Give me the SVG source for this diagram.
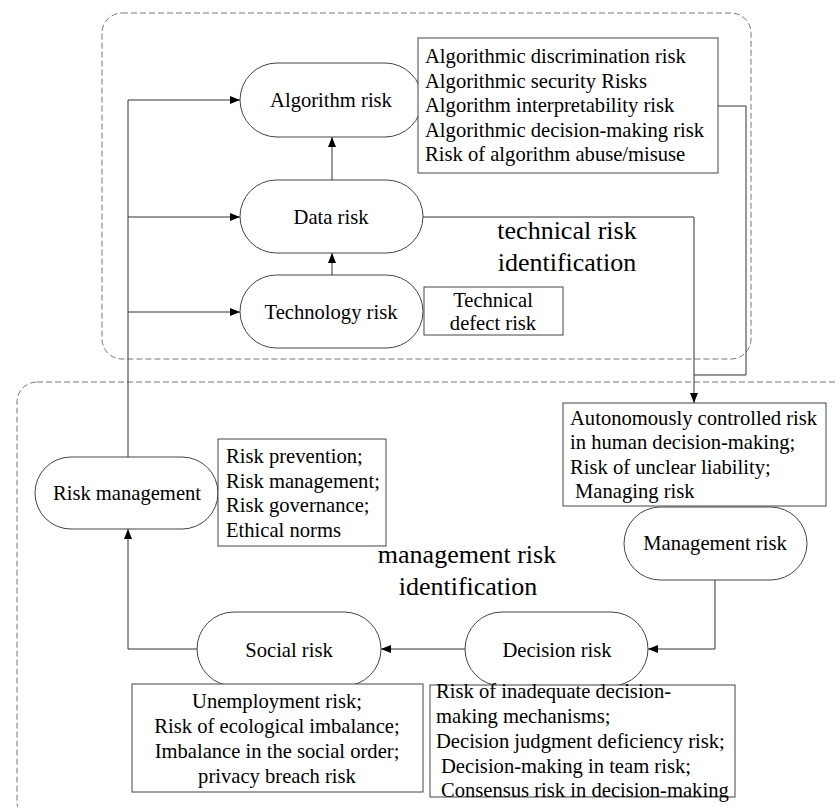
<svg xmlns="http://www.w3.org/2000/svg" width="837" height="807" viewBox="0 0 837 807">
<defs>
<marker id="ah" markerUnits="userSpaceOnUse" markerWidth="10" markerHeight="8" refX="10" refY="4" orient="auto">
<path d="M0,0 L10,4 L0,8 z" fill="#000"/>
</marker>
<style>
.region{fill:none;stroke:#777;stroke-width:1;stroke-dasharray:6 3}
.node{fill:#fff;stroke:#444;stroke-width:1}
.box{fill:#fff;stroke:#444;stroke-width:1}
.conn{fill:none;stroke:#333;stroke-width:1}
.arr{marker-end:url(#ah)}
text{font-family:"Liberation Serif","Times New Roman",serif;fill:#000}
.lbl{font-size:20.6px;text-anchor:middle}
.lst{font-size:20.6px}
.ttl{font-size:26px;text-anchor:middle}
</style>
</defs>
<rect width="837" height="807" fill="#fff"/>
<g id="regions">
<rect class="region" x="102" y="13" width="649" height="346" rx="20"/>
<rect class="region" x="17" y="382" width="850" height="440" rx="20"/>
</g>
<g id="connectors">
<path class="conn arr" d="M332,180 V137"/>
<path class="conn arr" d="M332,275 V253"/>
<path class="conn arr" d="M128,457 V100 H240"/>
<path class="conn arr" d="M128,217 H240"/>
<path class="conn arr" d="M128,312 H240"/>
<path class="conn arr" d="M423,217 H694 V403"/>
<path class="conn" d="M718,106 H746 V375 H694"/>
<path class="conn arr" d="M715,580 V649 H648"/>
<path class="conn arr" d="M465,649 H381"/>
<path class="conn arr" d="M197,649 H128 V529"/>
</g>
<g id="algorithm-risk">
<rect class="node" x="240" y="63" width="182" height="74" rx="37"/>
<text class="lbl" x="331" y="107">Algorithm risk</text>
</g>
<g id="data-risk">
<rect class="node" x="240" y="180" width="183" height="73" rx="36.5"/>
<text class="lbl" x="331" y="224">Data risk</text>
</g>
<g id="technology-risk">
<rect class="node" x="240" y="275" width="183" height="73" rx="36.5"/>
<text class="lbl" x="331" y="319">Technology risk</text>
</g>
<g id="algorithm-box">
<rect class="box" x="418" y="38" width="300" height="135"/>
<text class="lst" x="425" y="63">Algorithmic discrimination risk</text>
<text class="lst" x="425" y="88">Algorithmic security Risks</text>
<text class="lst" x="425" y="112">Algorithm interpretability risk</text>
<text class="lst" x="425" y="137">Algorithmic decision-making risk</text>
<text class="lst" x="425" y="161">Risk of algorithm abuse/misuse</text>
</g>
<g id="technical-defect-box">
<rect class="box" x="424" y="287" width="139" height="48"/>
<text class="lbl" x="493" y="307">Technical</text>
<text class="lbl" x="493" y="330">defect risk</text>
</g>
<g id="technical-title">
<text class="ttl" x="567" y="239">technical risk</text>
<text class="ttl" x="567" y="271">identification</text>
</g>
<g id="autonomous-box">
<rect class="box" x="563" y="403" width="263" height="103"/>
<text class="lst" x="570" y="425">Autonomously controlled risk</text>
<text class="lst" x="570" y="449">in human decision-making;</text>
<text class="lst" x="570" y="474">Risk of unclear liability;</text>
<text class="lst" x="575" y="498">Managing risk</text>
</g>
<g id="management-risk">
<rect class="node" x="624" y="507" width="183" height="73" rx="36.5"/>
<text class="lbl" x="715" y="550">Management risk</text>
</g>
<g id="decision-risk">
<rect class="node" x="465" y="612" width="183" height="74" rx="37"/>
<text class="lbl" x="557" y="657">Decision risk</text>
</g>
<g id="social-risk">
<rect class="node" x="197" y="612" width="184" height="74" rx="37"/>
<text class="lbl" x="289" y="657">Social risk</text>
</g>
<g id="risk-management">
<rect class="node" x="35" y="457" width="183" height="72" rx="36"/>
<text class="lbl" x="127" y="500">Risk management</text>
</g>
<g id="risk-management-box">
<rect class="box" x="218" y="439" width="168" height="107"/>
<text class="lst" x="226" y="463">Risk prevention;</text>
<text class="lst" x="226" y="488">Risk management;</text>
<text class="lst" x="226" y="512">Risk governance;</text>
<text class="lst" x="226" y="537">Ethical norms</text>
</g>
<g id="management-title">
<text class="ttl" x="467" y="563">management risk</text>
<text class="ttl" x="468" y="595">identification</text>
</g>
<g id="social-box">
<rect class="box" x="132" y="684" width="291" height="108"/>
<text class="lbl" x="277" y="708">Unemployment risk;</text>
<text class="lbl" x="277" y="733">Risk of ecological imbalance;</text>
<text class="lbl" x="277" y="758">Imbalance in the social order;</text>
<text class="lbl" x="277" y="783">privacy breach risk</text>
</g>
<g id="decision-box">
<rect class="box" x="430" y="685" width="305" height="112"/>
<text class="lst" x="436" y="698">Risk of inadequate decision-</text>
<text class="lst" x="436" y="723">making mechanisms;</text>
<text class="lst" x="436" y="748">Decision judgment deficiency risk;</text>
<text class="lst" x="441" y="773">Decision-making in team risk;</text>
<text class="lst" x="441" y="797">Consensus risk in decision-making</text>
</g>
</svg>
